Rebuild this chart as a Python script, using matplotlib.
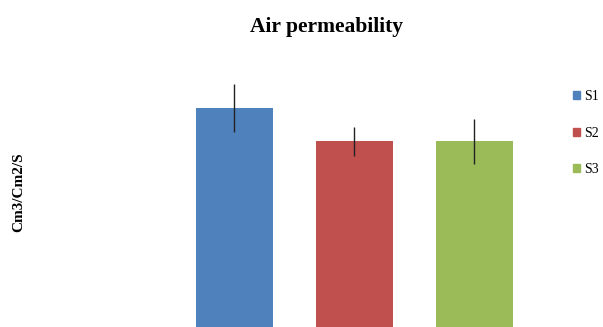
import matplotlib.pyplot as plt
from matplotlib.patches import Patch

plt.rcParams["font.family"] = ["Liberation Serif", "DejaVu Serif"]

# data (arbitrary units)
samples = ["S1", "S2", "S3"]
values = [2.19, 1.86, 1.86]
errors = [0.24, 0.145, 0.225]
colors = ["#4F81BD", "#C0504D", "#9BBB59"]

fig = plt.figure(figsize=(6.03, 3.27), dpi=100)
# axes: x from 174 to 534 px, y from bottom edge up to 60 px from top
ax = fig.add_axes([174.4 / 603, 0.0, 360 / 603, 267 / 327])

x = range(len(samples))
ax.bar(x, values, width=0.64, color=colors, yerr=errors,
       error_kw=dict(ecolor="#222222", elinewidth=1.0, capsize=0))
ax.set_xlim(-0.5, 2.5)
ax.set_ylim(0, 2.67)
for s in ax.spines.values():
    s.set_visible(False)
ax.set_xticks([])
ax.set_yticks([])

fig.text(326 / 603, 1 - 27 / 327, "Air permeability", ha="center", va="center",
         fontsize=15.5, fontweight="bold")
fig.text(19 / 603, 1 - 192 / 327, "Cm3/Cm2/S", ha="center", va="center",
         rotation=90, fontsize=11, fontweight="bold")

handles = [Patch(color=c, label=s) for c, s in zip(colors, samples)]
fig.legend(handles=handles, loc="upper left", bbox_to_anchor=(573 / 603, 1 - 90 / 327),
           frameon=False, fontsize=10, handlelength=0.5, handleheight=0.5,
           handletextpad=0.3, labelspacing=1.7, borderpad=0, borderaxespad=0)

fig.savefig("out.png", dpi=100)
